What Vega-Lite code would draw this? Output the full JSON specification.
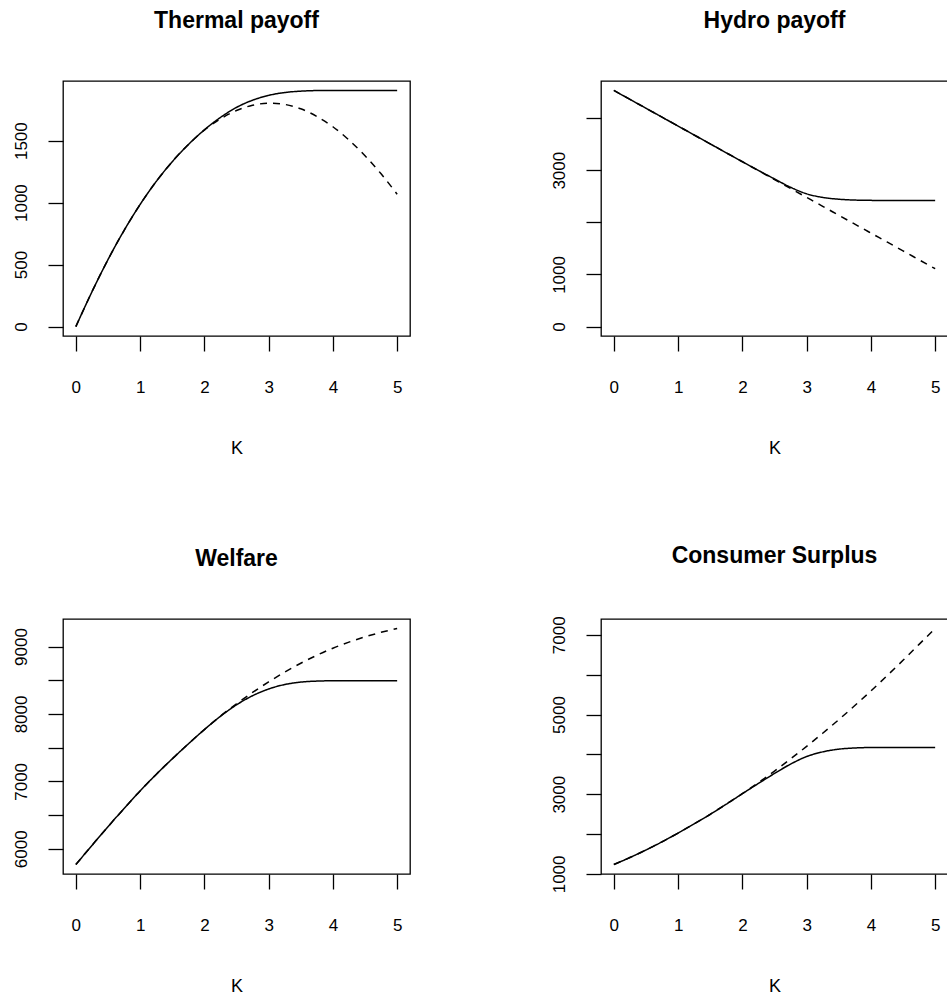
{
  "$schema": "https://vega.github.io/schema/vega-lite/v6.json",
  "background": "white",
  "padding": {"left": 11, "top": 9, "right": 0, "bottom": 0},
  "data": {"values": [
    {"p":"T","s":"d","K":0,"v":0},{"p":"T","s":"d","K":0.25,"v":280},{"p":"T","s":"d","K":0.5,"v":540},{"p":"T","s":"d","K":0.75,"v":775},{"p":"T","s":"d","K":1,"v":985},{"p":"T","s":"d","K":1.25,"v":1170},{"p":"T","s":"d","K":1.5,"v":1330},{"p":"T","s":"d","K":1.75,"v":1468},{"p":"T","s":"d","K":2,"v":1585},{"p":"T","s":"d","K":2.25,"v":1675},{"p":"T","s":"d","K":2.5,"v":1743},{"p":"T","s":"d","K":2.75,"v":1785},{"p":"T","s":"d","K":3,"v":1802},{"p":"T","s":"d","K":3.25,"v":1792},{"p":"T","s":"d","K":3.5,"v":1757},{"p":"T","s":"d","K":3.75,"v":1695},{"p":"T","s":"d","K":4,"v":1612},{"p":"T","s":"d","K":4.25,"v":1505},{"p":"T","s":"d","K":4.5,"v":1378},{"p":"T","s":"d","K":4.75,"v":1232},{"p":"T","s":"d","K":5,"v":1068},
    {"p":"T","s":"s","K":0,"v":0},{"p":"T","s":"s","K":0.25,"v":280},{"p":"T","s":"s","K":0.5,"v":540},{"p":"T","s":"s","K":0.75,"v":775},{"p":"T","s":"s","K":1,"v":985},{"p":"T","s":"s","K":1.25,"v":1170},{"p":"T","s":"s","K":1.5,"v":1330},{"p":"T","s":"s","K":1.75,"v":1468},{"p":"T","s":"s","K":2,"v":1587},{"p":"T","s":"s","K":2.25,"v":1687},{"p":"T","s":"s","K":2.5,"v":1768},{"p":"T","s":"s","K":2.75,"v":1826},{"p":"T","s":"s","K":3,"v":1865},{"p":"T","s":"s","K":3.25,"v":1888},{"p":"T","s":"s","K":3.5,"v":1899},{"p":"T","s":"s","K":3.75,"v":1904},{"p":"T","s":"s","K":4,"v":1905},{"p":"T","s":"s","K":4.25,"v":1905},{"p":"T","s":"s","K":4.5,"v":1905},{"p":"T","s":"s","K":4.75,"v":1905},{"p":"T","s":"s","K":5,"v":1905},
    {"p":"H","s":"d","K":0,"v":4530},{"p":"H","s":"d","K":0.25,"v":4359},{"p":"H","s":"d","K":0.5,"v":4188},{"p":"H","s":"d","K":0.75,"v":4017},{"p":"H","s":"d","K":1,"v":3846},{"p":"H","s":"d","K":1.25,"v":3675},{"p":"H","s":"d","K":1.5,"v":3504},{"p":"H","s":"d","K":1.75,"v":3333},{"p":"H","s":"d","K":2,"v":3162},{"p":"H","s":"d","K":2.25,"v":2991},{"p":"H","s":"d","K":2.5,"v":2820},{"p":"H","s":"d","K":2.75,"v":2649},{"p":"H","s":"d","K":3,"v":2478},{"p":"H","s":"d","K":3.25,"v":2307},{"p":"H","s":"d","K":3.5,"v":2136},{"p":"H","s":"d","K":3.75,"v":1965},{"p":"H","s":"d","K":4,"v":1794},{"p":"H","s":"d","K":4.25,"v":1623},{"p":"H","s":"d","K":4.5,"v":1452},{"p":"H","s":"d","K":4.75,"v":1281},{"p":"H","s":"d","K":5,"v":1110},
    {"p":"H","s":"s","K":0,"v":4530},{"p":"H","s":"s","K":0.25,"v":4359},{"p":"H","s":"s","K":0.5,"v":4188},{"p":"H","s":"s","K":0.75,"v":4017},{"p":"H","s":"s","K":1,"v":3846},{"p":"H","s":"s","K":1.25,"v":3675},{"p":"H","s":"s","K":1.5,"v":3504},{"p":"H","s":"s","K":1.75,"v":3333},{"p":"H","s":"s","K":2,"v":3163},{"p":"H","s":"s","K":2.25,"v":2995},{"p":"H","s":"s","K":2.5,"v":2832},{"p":"H","s":"s","K":2.75,"v":2672},{"p":"H","s":"s","K":3,"v":2547},{"p":"H","s":"s","K":3.25,"v":2478},{"p":"H","s":"s","K":3.5,"v":2443},{"p":"H","s":"s","K":3.75,"v":2427},{"p":"H","s":"s","K":4,"v":2421},{"p":"H","s":"s","K":4.25,"v":2419},{"p":"H","s":"s","K":4.5,"v":2418},{"p":"H","s":"s","K":4.75,"v":2418},{"p":"H","s":"s","K":5,"v":2418},
    {"p":"W","s":"d","K":0,"v":5766},{"p":"W","s":"d","K":0.25,"v":6049},{"p":"W","s":"d","K":0.5,"v":6328},{"p":"W","s":"d","K":0.75,"v":6597},{"p":"W","s":"d","K":1,"v":6858},{"p":"W","s":"d","K":1.25,"v":7103},{"p":"W","s":"d","K":1.5,"v":7334},{"p":"W","s":"d","K":1.75,"v":7555},{"p":"W","s":"d","K":2,"v":7768},{"p":"W","s":"d","K":2.25,"v":7968},{"p":"W","s":"d","K":2.5,"v":8150},{"p":"W","s":"d","K":2.75,"v":8318},{"p":"W","s":"d","K":3,"v":8475},{"p":"W","s":"d","K":3.25,"v":8620},{"p":"W","s":"d","K":3.5,"v":8752},{"p":"W","s":"d","K":3.75,"v":8870},{"p":"W","s":"d","K":4,"v":8975},{"p":"W","s":"d","K":4.25,"v":9065},{"p":"W","s":"d","K":4.5,"v":9143},{"p":"W","s":"d","K":4.75,"v":9210},{"p":"W","s":"d","K":5,"v":9268},
    {"p":"W","s":"s","K":0,"v":5766},{"p":"W","s":"s","K":0.25,"v":6049},{"p":"W","s":"s","K":0.5,"v":6328},{"p":"W","s":"s","K":0.75,"v":6597},{"p":"W","s":"s","K":1,"v":6858},{"p":"W","s":"s","K":1.25,"v":7103},{"p":"W","s":"s","K":1.5,"v":7334},{"p":"W","s":"s","K":1.75,"v":7555},{"p":"W","s":"s","K":2,"v":7768},{"p":"W","s":"s","K":2.25,"v":7965},{"p":"W","s":"s","K":2.5,"v":8135},{"p":"W","s":"s","K":2.75,"v":8270},{"p":"W","s":"s","K":3,"v":8370},{"p":"W","s":"s","K":3.25,"v":8436},{"p":"W","s":"s","K":3.5,"v":8472},{"p":"W","s":"s","K":3.75,"v":8487},{"p":"W","s":"s","K":4,"v":8492},{"p":"W","s":"s","K":4.25,"v":8493},{"p":"W","s":"s","K":4.5,"v":8493},{"p":"W","s":"s","K":4.75,"v":8493},{"p":"W","s":"s","K":5,"v":8493},
    {"p":"C","s":"d","K":0,"v":1234},{"p":"C","s":"d","K":0.25,"v":1410},{"p":"C","s":"d","K":0.5,"v":1600},{"p":"C","s":"d","K":0.75,"v":1805},{"p":"C","s":"d","K":1,"v":2025},{"p":"C","s":"d","K":1.25,"v":2255},{"p":"C","s":"d","K":1.5,"v":2495},{"p":"C","s":"d","K":1.75,"v":2750},{"p":"C","s":"d","K":2,"v":3015},{"p":"C","s":"d","K":2.25,"v":3290},{"p":"C","s":"d","K":2.5,"v":3580},{"p":"C","s":"d","K":2.75,"v":3885},{"p":"C","s":"d","K":3,"v":4200},{"p":"C","s":"d","K":3.25,"v":4530},{"p":"C","s":"d","K":3.5,"v":4870},{"p":"C","s":"d","K":3.75,"v":5225},{"p":"C","s":"d","K":4,"v":5590},{"p":"C","s":"d","K":4.25,"v":5970},{"p":"C","s":"d","K":4.5,"v":6360},{"p":"C","s":"d","K":4.75,"v":6760},{"p":"C","s":"d","K":5,"v":7160},
    {"p":"C","s":"s","K":0,"v":1234},{"p":"C","s":"s","K":0.25,"v":1410},{"p":"C","s":"s","K":0.5,"v":1600},{"p":"C","s":"s","K":0.75,"v":1805},{"p":"C","s":"s","K":1,"v":2025},{"p":"C","s":"s","K":1.25,"v":2255},{"p":"C","s":"s","K":1.5,"v":2495},{"p":"C","s":"s","K":1.75,"v":2750},{"p":"C","s":"s","K":2,"v":3012},{"p":"C","s":"s","K":2.25,"v":3270},{"p":"C","s":"s","K":2.5,"v":3520},{"p":"C","s":"s","K":2.75,"v":3755},{"p":"C","s":"s","K":3,"v":3945},{"p":"C","s":"s","K":3.25,"v":4062},{"p":"C","s":"s","K":3.5,"v":4130},{"p":"C","s":"s","K":3.75,"v":4160},{"p":"C","s":"s","K":4,"v":4172},{"p":"C","s":"s","K":4.25,"v":4175},{"p":"C","s":"s","K":4.5,"v":4175},{"p":"C","s":"s","K":4.75,"v":4175},{"p":"C","s":"s","K":5,"v":4175}
  ]},
  "columns": 2,
  "spacing": {"row": 283, "column": 191},
  "bounds": "flush",
  "concat": [
    {
      "title": {"text": "Thermal payoff"},
      "width": 347, "height": 255,
      "transform": [{"filter": "datum.p == 'T'"}],
      "mark": {"type": "line", "color": "black", "strokeWidth": 1.5, "interpolate": "monotone", "clip": true},
      "encoding": {
        "x": {"field": "K", "type": "quantitative", "scale": {"domain": [-0.2, 5.2], "nice": false, "zero": false}, "axis": {"values": [0, 1, 2, 3, 4, 5], "title": "K", "format": "d"}},
        "y": {"field": "v", "type": "quantitative", "scale": {"domain": [-76, 1981], "nice": false, "zero": false}, "axis": {"values": [0, 500, 1000, 1500], "title": null, "format": "d"}},
        "strokeDash": {"field": "s", "type": "nominal", "scale": {"domain": ["s", "d"], "range": [[1, 0], [7, 6]]}, "legend": null}
      }
    },
    {
      "title": {"text": "Hydro payoff"},
      "width": 347, "height": 255,
      "transform": [{"filter": "datum.p == 'H'"}],
      "mark": {"type": "line", "color": "black", "strokeWidth": 1.5, "interpolate": "monotone", "clip": true},
      "encoding": {
        "x": {"field": "K", "type": "quantitative", "scale": {"domain": [-0.2, 5.2], "nice": false, "zero": false}, "axis": {"values": [0, 1, 2, 3, 4, 5], "title": "K", "format": "d"}},
        "y": {"field": "v", "type": "quantitative", "scale": {"domain": [-181, 4711], "nice": false, "zero": false}, "axis": {"values": [0, 1000, 2000, 3000, 4000], "title": null, "format": "d", "labelExpr": "datum.value == 2000 || datum.value == 4000 ? '' : datum.label"}},
        "strokeDash": {"field": "s", "type": "nominal", "scale": {"domain": ["s", "d"], "range": [[1, 0], [7, 6]]}, "legend": null}
      }
    },
    {
      "title": {"text": "Welfare"},
      "width": 347, "height": 255,
      "transform": [{"filter": "datum.p == 'W'"}],
      "mark": {"type": "line", "color": "black", "strokeWidth": 1.5, "interpolate": "monotone", "clip": true},
      "encoding": {
        "x": {"field": "K", "type": "quantitative", "scale": {"domain": [-0.2, 5.2], "nice": false, "zero": false}, "axis": {"values": [0, 1, 2, 3, 4, 5], "title": "K", "format": "d"}},
        "y": {"field": "v", "type": "quantitative", "scale": {"domain": [5626, 9408], "nice": false, "zero": false}, "axis": {"values": [6000, 6500, 7000, 7500, 8000, 8500, 9000], "title": null, "format": "d", "labelExpr": "datum.value % 1000 == 0 ? datum.label : ''"}},
        "strokeDash": {"field": "s", "type": "nominal", "scale": {"domain": ["s", "d"], "range": [[1, 0], [7, 6]]}, "legend": null}
      }
    },
    {
      "title": {"text": "Consumer Surplus"},
      "width": 347, "height": 255,
      "transform": [{"filter": "datum.p == 'C'"}],
      "mark": {"type": "line", "color": "black", "strokeWidth": 1.5, "interpolate": "monotone", "clip": true},
      "encoding": {
        "x": {"field": "K", "type": "quantitative", "scale": {"domain": [-0.2, 5.2], "nice": false, "zero": false}, "axis": {"values": [0, 1, 2, 3, 4, 5], "title": "K", "format": "d"}},
        "y": {"field": "v", "type": "quantitative", "scale": {"domain": [997, 7397], "nice": false, "zero": false}, "axis": {"values": [1000, 2000, 3000, 4000, 5000, 6000, 7000], "title": null, "format": "d", "labelExpr": "datum.value % 2000 == 1000 ? datum.label : ''"}},
        "strokeDash": {"field": "s", "type": "nominal", "scale": {"domain": ["s", "d"], "range": [[1, 0], [7, 6]]}, "legend": null}
      }
    }
  ],
  "config": {
    "view": {"stroke": "black", "strokeWidth": 1.3},
    "font": "Liberation Sans",
    "axis": {
      "grid": false, "domain": false, "ticks": true, "tickColor": "black", "tickWidth": 1.3, "tickSize": 15,
      "labelColor": "black", "labelFont": "Liberation Sans", "labelFontSize": 17, "labelFlush": false, "labelOverlap": false,
      "titleColor": "black", "titleFont": "Liberation Sans", "titleFontSize": 18, "titleFontWeight": "normal"
    },
    "axisX": {"labelAngle": 0, "labelAlign": "center", "labelBaseline": "alphabetic", "labelPadding": 41, "titleY": 117, "titleBaseline": "alphabetic"},
    "axisY": {"labelAngle": 270, "labelAlign": "center", "labelBaseline": "alphabetic", "labelPadding": 22},
    "title": {"font": "Liberation Sans", "fontSize": 23, "fontWeight": "bold", "color": "black", "anchor": "middle", "frame": "group", "baseline": "alphabetic", "offset": 48}
  }
}
